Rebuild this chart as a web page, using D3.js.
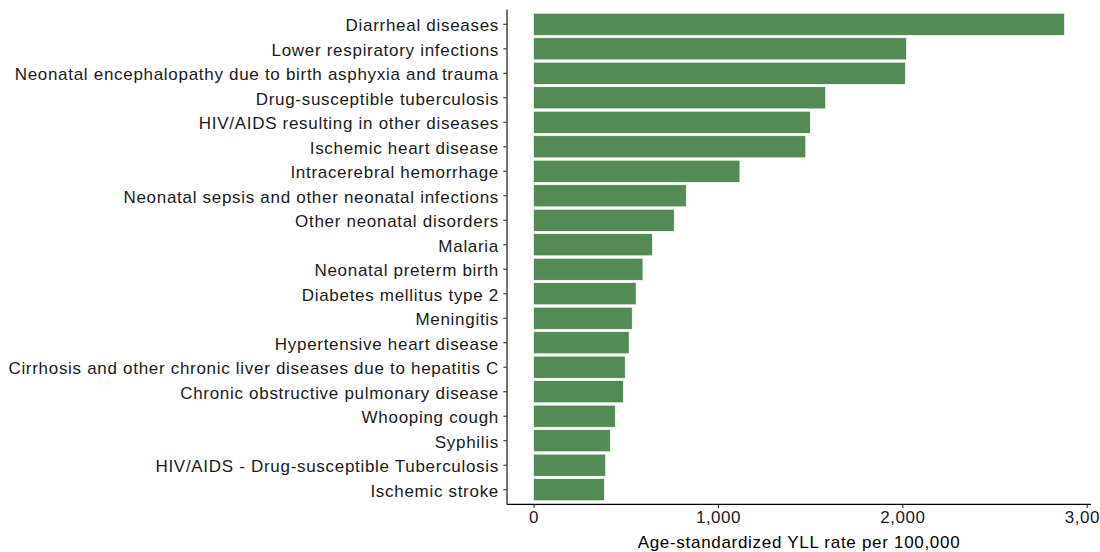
<!DOCTYPE html>
<meta charset="utf-8">
<body style="margin:0;background:#fff">
    <div id="chart"></div>
</body>
<script src="https://d3js.org/d3.v7.min.js"></script>
<style>
    text { font-family: "Liberation Sans", Arial, sans-serif; }
</style>
<script>
    // causes, top to bottom
    var causes = [
        "Diarrheal diseases",
        "Lower respiratory infections",
        "Neonatal encephalopathy due to birth asphyxia and trauma",
        "Drug-susceptible tuberculosis",
        "HIV/AIDS resulting in other diseases",
        "Ischemic heart disease",
        "Intracerebral hemorrhage",
        "Neonatal sepsis and other neonatal infections",
        "Other neonatal disorders",
        "Malaria",
        "Neonatal preterm birth",
        "Diabetes mellitus type 2",
        "Meningitis",
        "Hypertensive heart disease",
        "Cirrhosis and other chronic liver diseases due to hepatitis C",
        "Chronic obstructive pulmonary disease",
        "Whooping cough",
        "Syphilis",
        "HIV/AIDS - Drug-susceptible Tuberculosis",
        "Ischemic stroke"
    ];
    var rates = [2879, 2022, 2016, 1584, 1501, 1476, 1119, 828, 763, 644,
                 593, 556, 535, 518, 497, 487, 443, 416, 391, 384];
    var xTicks = [0, 1000, 2000, 3000];

    var width = 1100, height = 552;
    var mLeft = 507, mRight = 1091, mTop = 9.6, mBottom = 504.4;

    var svg = d3.select("#chart").append("svg")
        .attr("width", width)
        .attr("height", height);

    var maxV = d3.max(rates);
    var x = d3.scaleLinear()
        .domain([-0.05 * maxV, 1.05 * maxV])
        .range([mLeft, mRight]);

    // discrete scale with ggplot-like 0.6 expansion, bar width 0.9
    var step = (mBottom - mTop) / (causes.length - 1 + 1.2);
    var y = function(i) { return mTop + 0.6 * step + i * step; };
    var barH = 0.9 * step;

    var data = causes.map(function(c, i) { return {cause: c, rate: rates[i], i: i}; });

    svg.append("g")
        .selectAll("rect")
        .data(data)
        .enter().append("rect")
            .attr("x", x(0))
            .attr("y", function(d) { return y(d.i) - barH / 2; })
            .attr("width", function(d) { return x(d.rate) - x(0); })
            .attr("height", barH)
            .attr("fill", "#548B54")
            .attr("stroke", "#ffffff")
            .attr("stroke-width", 0.6);

    // y axis
    var yAxis = svg.append("g");
    yAxis.append("line")
        .attr("x1", mLeft).attr("x2", mLeft)
        .attr("y1", mTop).attr("y2", mBottom)
        .attr("stroke", "#000").attr("stroke-width", 1.1);
    yAxis.selectAll("line.tick")
        .data(data)
        .enter().append("line")
            .attr("class", "tick")
            .attr("x1", mLeft - 3.7).attr("x2", mLeft)
            .attr("y1", function(d) { return y(d.i); })
            .attr("y2", function(d) { return y(d.i); })
            .attr("stroke", "#333").attr("stroke-width", 1.1);
    yAxis.selectAll("text")
        .data(data)
        .enter().append("text")
            .attr("x", mLeft - 8)
            .attr("y", function(d) { return y(d.i); })
            .attr("dy", "0.42em")
            .attr("text-anchor", "end")
            .attr("font-size", 17)
            .attr("letter-spacing", "0.7px")
            .attr("fill", "#1a1a1a")
            .text(function(d) { return d.cause; });

    // x axis
    var xAxis = svg.append("g")
        .attr("transform", "translate(0," + mBottom + ")")
        .call(d3.axisBottom(x).tickValues(xTicks).tickSize(3.7).tickPadding(3)
              .tickFormat(d3.format(",")));
    xAxis.select(".domain")
        .attr("d", "M" + mLeft + ",0H" + mRight)
        .attr("stroke", "#000").attr("stroke-width", 1.1);
    xAxis.selectAll(".tick line").attr("stroke", "#333").attr("stroke-width", 1.1);
    xAxis.selectAll(".tick text")
        .attr("font-size", 17)
        .attr("letter-spacing", "0.5px")
        .attr("fill", "#1a1a1a")
        .style("font-family", "Liberation Sans, Arial, sans-serif");

    svg.append("text")
        .attr("x", (mLeft + mRight) / 2)
        .attr("y", 548)
        .attr("text-anchor", "middle")
        .attr("font-size", 17)
        .attr("letter-spacing", "0.7px")
        .attr("fill", "#000")
        .text("Age-standardized YLL rate per 100,000");
</script>
